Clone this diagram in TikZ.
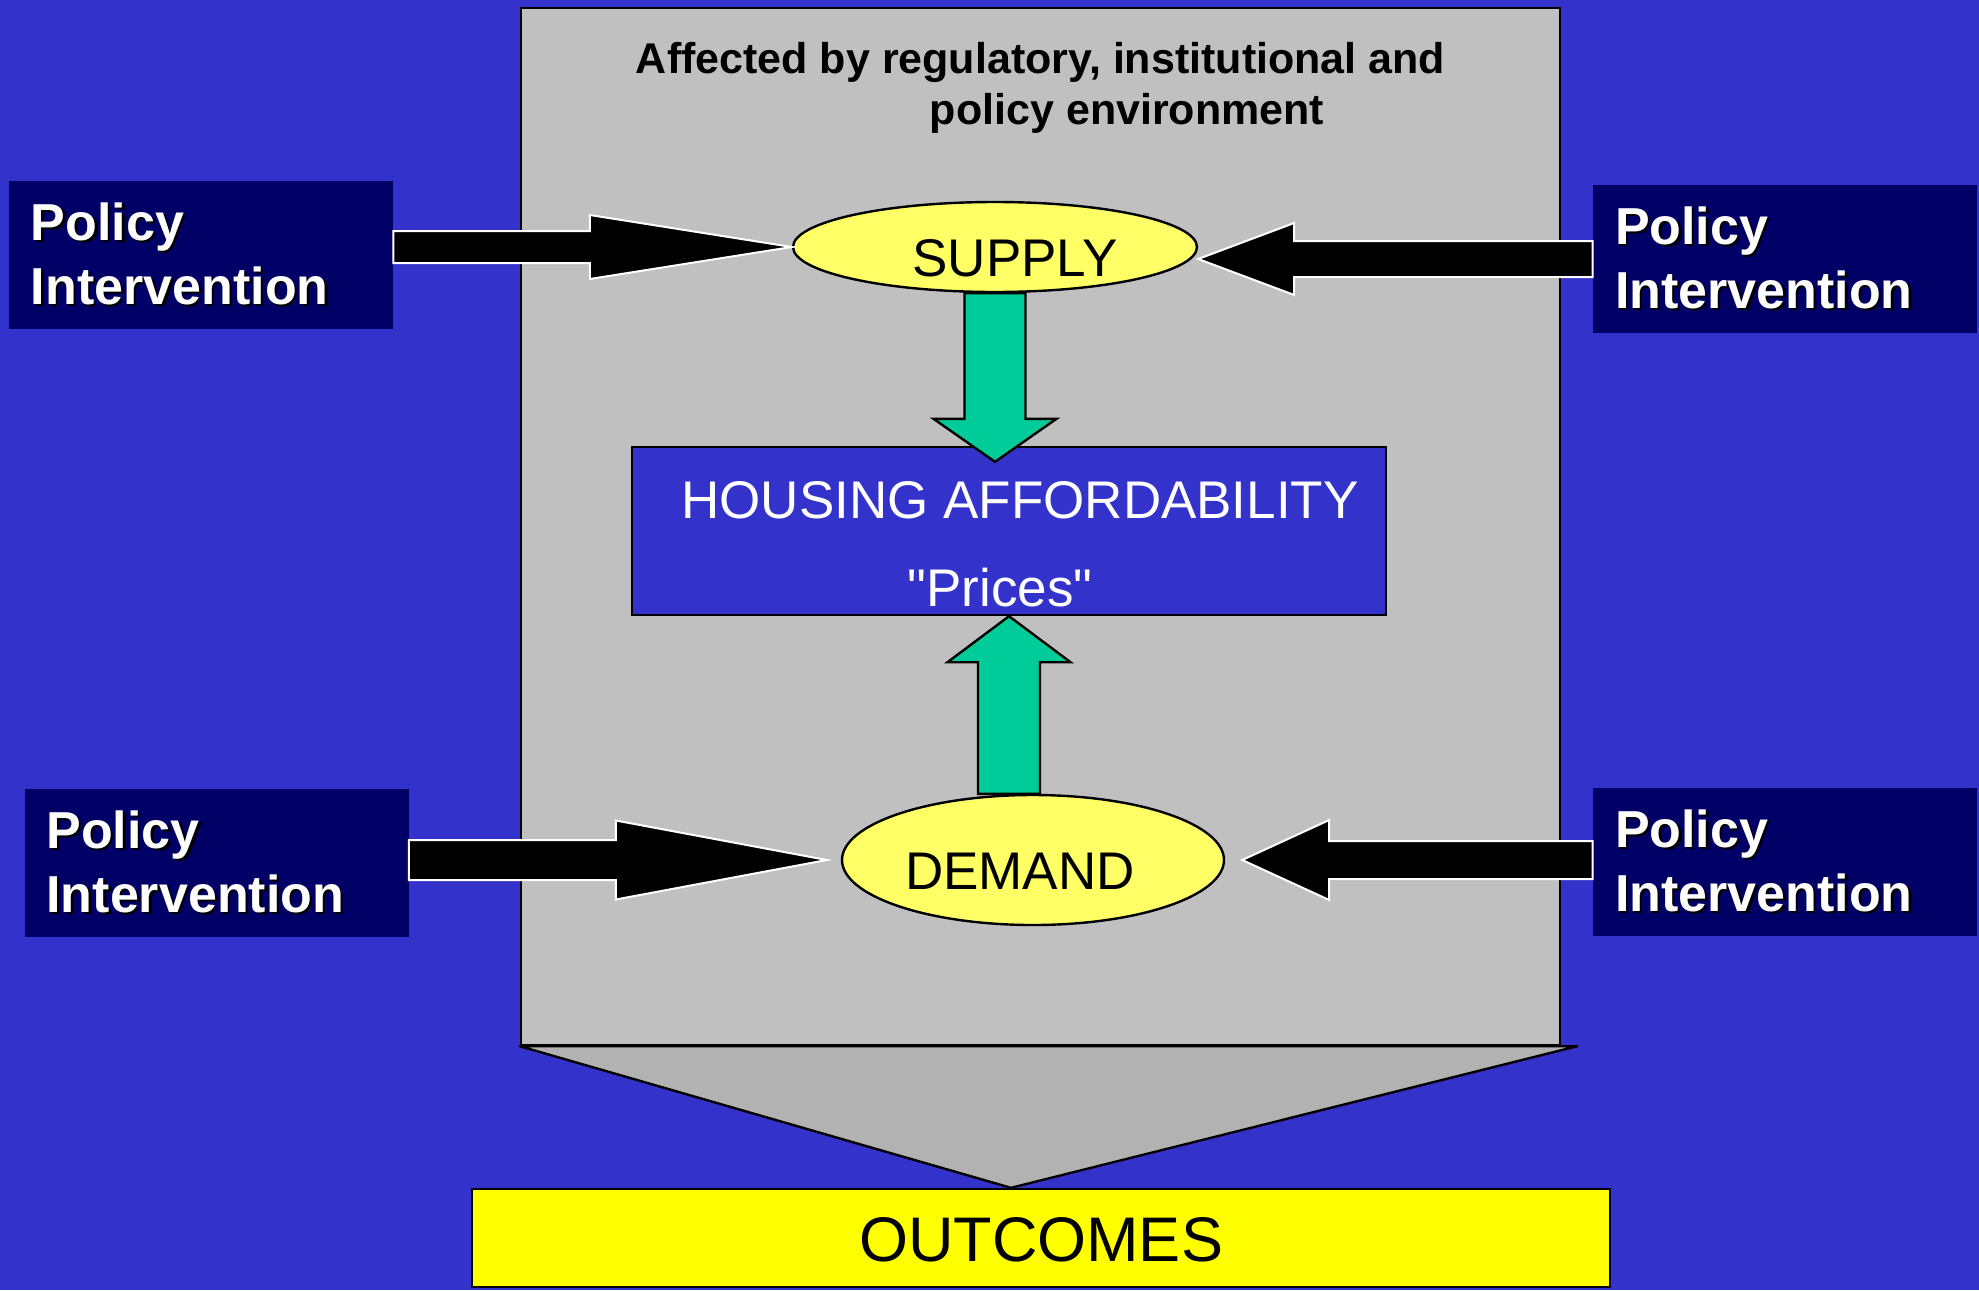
\documentclass[tikz,border=0pt]{standalone}
\usepackage{fontspec}
\setmainfont{Liberation Sans}[Ligatures = TeXOff]
\usetikzlibrary{positioning, calc, shapes.geometric}

\definecolor{backblue}{HTML}{3333CC}
\definecolor{policynavy}{HTML}{000066}
\definecolor{envgray}{HTML}{C0C0C0}
\definecolor{funnelgray}{HTML}{B2B2B2}
\definecolor{marketyellow}{HTML}{FFFF66}
\definecolor{outcomeyellow}{HTML}{FFFF00}
\definecolor{flowgreen}{HTML}{00CC99}

\tikzstyle{policy} = [rectangle, fill = policynavy, text = white, 
	font = \fontsize{26}{32}\selectfont\bfseries, align = left, 
	text width = 170pt, inner xsep = 11pt, minimum height = 74pt]
\tikzstyle{market} = [ellipse, draw = black, line width = 1.2pt, 
	fill = marketyellow, inner sep = 0pt, text height = 29pt, text depth = 0pt, 
	font = \fontsize{26.5}{26.5}\selectfont]
\tikzstyle{blackarrow} = [fill = black, draw = white, line width = 1pt]
\tikzstyle{greenarrow} = [fill = flowgreen, draw = black, line width = 1.2pt]

\newcommand{\shadowed}[1]{\makebox[0pt][l]{\hspace{1.2pt}\raisebox{-1.2pt}{\color{black}#1}}#1}

% style, from, tip, half shaft, half head, head length
\newcommand{\blockarrow}[6]{
	\coordinate (head) at ($(#3)!#6!(#2)$);
	\draw [#1] ($(#2)!#4!90:(#3)$) -- ($(head)!#4!90:(#3)$) -- ($(head)!#5!90:(#3)$) -- (#3) 
		-- ($(head)!#5!-90:(#3)$) -- ($(head)!#4!-90:(#3)$) -- ($(#2)!#4!-90:(#3)$) -- cycle;
}

\begin{document}
\begin{tikzpicture}[x = 0.5pt, y = -0.5pt]

\useasboundingbox (0, 0) rectangle (1979, 1290);
\fill [backblue] (0, 0) rectangle (1979, 1290);

\node (env) [rectangle, draw = black, line width = 1.2pt, fill = envgray, 
	minimum width = 519.5pt, minimum height = 518.5pt] at (1040.5, 526.5) {};

\node (title) [below = 17.5pt of env.north, inner sep = 0pt, align = left, 
	font = \fontsize{21.5}{25.5}\selectfont\bfseries]
	{Affected by regulatory, institutional and\\\hspace*{147pt}policy environment};

\node (outcomes) [rectangle, draw = black, line width = 1.2pt, fill = outcomeyellow, 
	minimum width = 569pt, minimum height = 49pt, text height = 23pt, text depth = 0pt, 
	font = \fontsize{31.5}{31.5}\selectfont] at (1041, 1238) {OUTCOMES};

\coordinate (apex) at ($(outcomes.north)+(-30, 0)$);
\draw [fill = funnelgray, line width = 1.2pt, line join = round] 
	(env.south west) -- ($(env.south east)+(16, 0)$) -- (apex) -- cycle;

\node (supply) [market, minimum width = 202pt, minimum height = 45pt] 
	at (995, 247) {\hspace*{20pt}SUPPLY};

\node (demand) [market, minimum width = 191pt, minimum height = 65pt] 
	at (1033, 860) {DEMAND\hspace*{13pt}};

\node (housing) [rectangle, draw = black, line width = 1.2pt, fill = backblue, text = white, 
	minimum width = 377pt, minimum height = 84pt, align = center, 
	font = \fontsize{26.5}{26.5}\selectfont] at (1009, 531)
	{\hspace*{11pt}\rule{0pt}{32pt}HOUSING AFFORDABILITY\\[17.5pt]"Prices"\hspace*{9pt}};

\node (polTL) [policy] at (201, 255) {\shadowed{Policy}\\\shadowed{Intervention}};
\node (polTR) [policy] at (1785, 259) {\shadowed{Policy}\\\shadowed{Intervention}};
\node (polBL) [policy] at (216.5, 863) {\shadowed{Policy}\\\shadowed{Intervention}};
\node (polBR) [policy] at (1785, 862) {\shadowed{Policy}\\\shadowed{Intervention}};

\coordinate (demandL) at ($(demand.west)+(-14, 0)$);
\coordinate (demandR) at ($(demand.east)+(17, 0)$);
\coordinate (housingN) at ($(supply.south |- housing.north)+(0, 16)$);

\blockarrow{blackarrow}{polTL.east |- supply.west}{supply.west}{8pt}{16pt}{101pt}
\blockarrow{blackarrow}{polTR.west}{supply.east |- polTR.west}{9pt}{18pt}{48pt}
\blockarrow{blackarrow}{polBL.east |- demandL}{demandL}{10pt}{19.75pt}{105.5pt}
\blockarrow{blackarrow}{polBR.west |- demandR}{demandR}{9.5pt}{20pt}{43.5pt}

\blockarrow{greenarrow}{supply.south}{housingN}{15.25pt}{30.75pt}{21.5pt}
\blockarrow{greenarrow}{housing.south |- demand.north}{housing.south}{15.5pt}{30.75pt}{23pt}

\end{tikzpicture}
\end{document}
